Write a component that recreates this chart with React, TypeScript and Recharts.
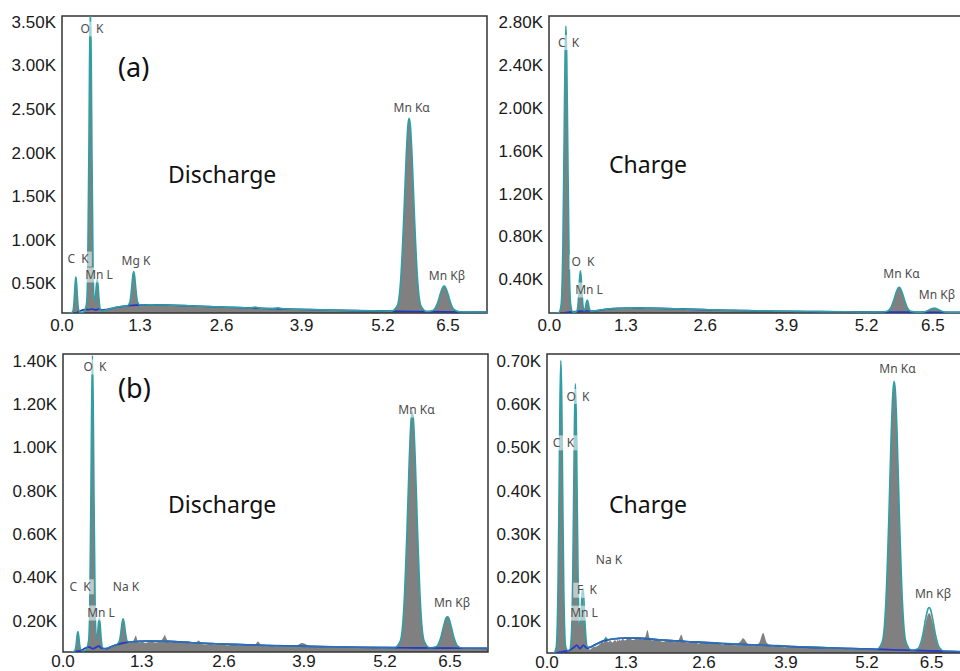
import React from 'react';
import { ComposedChart, Area, Line, Scatter, XAxis, YAxis, ReferenceArea } from 'recharts';

// ---------- shared energy grid (keV) ----------
const energyKeV = [
  0.00, 0.10, 0.16, 0.20, 0.23, 0.25, 0.265, 0.28, 0.295, 0.31,
  0.33, 0.36, 0.40, 0.43, 0.46, 0.48, 0.50, 0.51, 0.525, 0.54,
  0.55, 0.57, 0.59, 0.61, 0.625, 0.64, 0.655, 0.67, 0.685, 0.70,
  0.73, 0.77, 0.82, 0.88, 0.94, 0.98, 1.00, 1.02, 1.04, 1.06,
  1.08, 1.11, 1.15, 1.19, 1.22, 1.24, 1.255, 1.27, 1.29, 1.32,
  1.36, 1.42, 1.50, 1.58, 1.66, 1.71, 1.74, 1.77, 1.82, 1.90,
  2.00, 2.10, 2.20, 2.27, 2.31, 2.35, 2.42, 2.50, 2.60, 2.70,
  2.80, 2.90, 3.00, 3.10, 3.20, 3.27, 3.31, 3.35, 3.45, 3.55,
  3.63, 3.69, 3.75, 3.85, 3.95, 4.05, 4.20, 4.40, 4.60, 4.80,
  5.00, 5.20, 5.40, 5.60, 5.70, 5.76, 5.81, 5.85, 5.88, 5.90,
  5.92, 5.95, 5.99, 6.04, 6.10, 6.20, 6.30, 6.38, 6.43, 6.47,
  6.49, 6.51, 6.55, 6.60, 6.66, 6.75, 6.90, 7.10, 7.30, 7.50,
];

// ---------- (a) Discharge, top-left ----------
const countsA = [
  150, 150, 152, 158, 180, 296, 474, 575, 475, 298,
  184, 166, 168, 189, 267, 673, 2075, 3007, 3650, 3007,
  2075, 676, 297, 346, 476, 545, 465, 320, 220, 185,
  182, 190, 200, 211, 221, 226, 228, 230, 232, 234,
  236, 238, 242, 281, 441, 587, 633, 589, 444, 287,
  251, 251, 252, 252, 251, 251, 251, 250, 250, 248,
  246, 244, 241, 239, 238, 237, 235, 233, 230, 228,
  226, 224, 222, 219, 217, 222, 226, 220, 212, 210,
  212, 218, 210, 204, 202, 201, 198, 195, 192, 189,
  186, 184, 182, 180, 243, 566, 1256, 1951, 2315, 2392,
  2315, 1951, 1256, 564, 241, 176, 187, 275, 388, 458,
  468, 458, 387, 274, 196, 174, 172, 171, 170, 169,
];
const backgroundA = [
  { e: 0.30, c: 170 }, { e: 0.36, c: 185 }, { e: 0.40, c: 195 }, { e: 0.45, c: 200 },
  { e: 0.50, c: 196 }, { e: 0.53, c: 205 }, { e: 0.58, c: 200 }, { e: 0.62, c: 195 },
  { e: 0.66, c: 205 }, { e: 0.72, c: 192 }, { e: 0.80, c: 200 }, { e: 0.90, c: 214 },
  { e: 1.00, c: 228 }, { e: 1.10, c: 238 }, { e: 1.20, c: 245 }, { e: 1.30, c: 249 },
  { e: 1.50, c: 252 }, { e: 1.80, c: 250 }, { e: 2.20, c: 241 }, { e: 2.60, c: 230 },
  { e: 3.00, c: 222 }, { e: 3.50, c: 211 }, { e: 4.00, c: 202 }, { e: 4.50, c: 194 },
  { e: 5.00, c: 186 }, { e: 5.50, c: 181 }, { e: 6.00, c: 177 }, { e: 6.50, c: 174 },
  { e: 7.00, c: 171 }, { e: 7.50, c: 169 },
];
const peakLabelsA = [
  { e: 0.552, c: 3416, t: 'O  K' },
  { e: 5.943, c: 2516, t: 'Mn Kα' },
  { e: 0.316, c: 778, t: 'C  K' },
  { e: 0.670, c: 595, t: 'Mn L' },
  { e: 1.294, c: 755, t: 'Mg K' },
  { e: 6.538, c: 589, t: 'Mn Kβ' },
];
const yTicksA = [500, 1000, 1500, 2000, 2500, 3000, 3500];
const xTickKeVA = [0.046, 1.361, 2.739, 4.088, 5.459, 6.555];

// ---------- Charge, top-right ----------
const countsTR = [
  80, 80, 88, 165, 755, 1711, 2445, 2760, 2445, 1711,
  757, 167, 94, 94, 100, 142, 297, 400, 480, 400,
  297, 145, 109, 139, 183, 207, 184, 141, 113, 103,
  102, 106, 110, 116, 121, 123, 124, 125, 126, 127,
  127, 128, 129, 130, 130, 130, 131, 131, 131, 131,
  131, 132, 132, 132, 131, 131, 131, 130, 130, 129,
  127, 125, 124, 123, 122, 121, 120, 119, 117, 116,
  115, 113, 112, 111, 110, 109, 109, 108, 107, 106,
  105, 105, 104, 103, 102, 102, 101, 100, 99, 98,
  97, 96, 96, 95, 102, 135, 207, 279, 317, 325,
  317, 279, 207, 134, 101, 94, 94, 106, 120, 129,
  130, 129, 120, 106, 96, 92, 92, 92, 91, 91,
];
const backgroundTR = [
  { e: 0.25, c: 88 }, { e: 0.35, c: 95 }, { e: 0.45, c: 100 }, { e: 0.55, c: 104 },
  { e: 0.65, c: 105 }, { e: 0.75, c: 104 }, { e: 0.85, c: 112 }, { e: 1.00, c: 124 },
  { e: 1.20, c: 130 }, { e: 1.50, c: 132 }, { e: 1.80, c: 130 }, { e: 2.20, c: 124 },
  { e: 2.60, c: 117 }, { e: 3.00, c: 112 }, { e: 3.50, c: 106 }, { e: 4.00, c: 102 },
  { e: 4.50, c: 99 }, { e: 5.00, c: 97 }, { e: 5.50, c: 95 }, { e: 6.00, c: 94 },
  { e: 6.50, c: 93 }, { e: 7.00, c: 92 }, { e: 7.60, c: 91 },
];
const peakLabelsTR = [
  { e: 0.324, c: 2607, t: 'C  K' },
  { e: 0.568, c: 561, t: 'O  K' },
  { e: 0.670, c: 300, t: 'Mn L' },
  { e: 5.939, c: 449, t: 'Mn Kα' },
  { e: 6.538, c: 254, t: 'Mn Kβ' },
];
const yTicksTR = [400, 800, 1200, 1600, 2000, 2400, 2800];
const xTickKeVTR = [0.0, 1.29, 2.63, 4.0, 5.35, 6.47];

// ---------- (b) Discharge, bottom-left ----------
const fitB = [
  50, 50, 52, 56, 62, 87, 126, 149, 127, 89,
  65, 61, 62, 72, 106, 263, 798, 1152, 1424, 1152,
  798, 266, 119, 137, 185, 211, 180, 122, 85, 71,
  70, 73, 78, 84, 90, 108, 140, 185, 208, 187,
  143, 105, 100, 101, 102, 102, 103, 103, 103, 104,
  104, 105, 106, 106, 105, 105, 105, 105, 104, 103,
  101, 100, 98, 97, 97, 96, 95, 94, 93, 92,
  91, 90, 89, 88, 87, 87, 86, 86, 85, 84,
  84, 83, 83, 82, 82, 81, 81, 80, 79, 78,
  77, 76, 75, 75, 107, 265, 605, 947, 1126, 1164,
  1126, 947, 605, 265, 106, 74, 79, 122, 178, 213,
  218, 213, 178, 122, 84, 72, 72, 72, 71, 71,
];
const countsB = [
  50, 50, 52, 56, 62, 87, 126, 149, 127, 89,
  65, 61, 62, 72, 106, 263, 798, 1152, 1410, 1152,
  798, 266, 119, 137, 185, 211, 180, 122, 85, 71,
  66, 70, 74, 80, 86, 106, 138, 182, 205, 184,
  140, 102, 96, 99, 112, 124, 131, 118, 100, 98,
  101, 97, 103, 99, 104, 118, 134, 116, 99, 101,
  96, 99, 93, 100, 108, 97, 90, 92, 88, 91,
  86, 88, 84, 87, 83, 92, 103, 90, 82, 84,
  80, 83, 79, 81, 84, 96, 79, 78, 76, 77,
  74, 75, 72, 73, 107, 265, 605, 947, 1126, 1160,
  1126, 947, 605, 265, 106, 74, 79, 122, 178, 213,
  218, 213, 178, 122, 84, 70, 71, 69, 70, 69,
];
const backgroundB = [
  { e: 0.25, c: 58 }, { e: 0.33, c: 62 }, { e: 0.40, c: 72 }, { e: 0.47, c: 78 },
  { e: 0.53, c: 70 }, { e: 0.58, c: 76 }, { e: 0.63, c: 82 }, { e: 0.68, c: 72 },
  { e: 0.75, c: 70 }, { e: 0.85, c: 80 }, { e: 0.95, c: 90 }, { e: 1.05, c: 97 },
  { e: 1.15, c: 101 }, { e: 1.30, c: 104 }, { e: 1.50, c: 106 }, { e: 1.80, c: 104 },
  { e: 2.20, c: 98 }, { e: 2.60, c: 93 }, { e: 3.00, c: 89 }, { e: 3.50, c: 85 },
  { e: 4.00, c: 82 }, { e: 4.50, c: 79 }, { e: 5.00, c: 77 }, { e: 5.50, c: 75 },
  { e: 6.00, c: 74 }, { e: 6.50, c: 73 }, { e: 7.00, c: 72 }, { e: 7.50, c: 71 },
];
const peakLabelsB = [
  { e: 0.568, c: 1371, t: 'O  K' },
  { e: 5.971, c: 1172, t: 'Mn Kα' },
  { e: 0.316, c: 356, t: 'C  K' },
  { e: 1.089, c: 355, t: 'Na K' },
  { e: 0.669, c: 235, t: 'Mn L' },
  { e: 6.568, c: 281, t: 'Mn Kβ' },
];
const yTicksB = [200, 400, 600, 800, 1000, 1200, 1400];
const xTickKeVB = [0.03, 1.353, 2.736, 4.08, 5.442, 6.534];

// ---------- Charge, bottom-right ----------
const fitD = [
  20, 20, 24, 37, 163, 405, 610, 700, 610, 406,
  165, 40, 30, 32, 73, 200, 444, 564, 646, 564,
  445, 204, 89, 90, 129, 166, 173, 143, 100, 64,
  39, 38, 41, 45, 49, 51, 52, 56, 59, 57,
  55, 56, 57, 58, 58, 58, 59, 59, 59, 59,
  60, 60, 60, 60, 59, 59, 58, 58, 57, 56,
  55, 54, 53, 52, 52, 52, 51, 51, 50, 49,
  49, 48, 47, 47, 46, 45, 45, 45, 44, 44,
  43, 43, 43, 42, 42, 41, 40, 39, 38, 37,
  36, 35, 34, 33, 51, 142, 335, 530, 630, 652,
  630, 529, 334, 141, 50, 31, 35, 65, 103, 127,
  130, 127, 103, 65, 38, 29, 29, 28, 28, 27,
];
const countsD = [
  20, 20, 24, 37, 163, 405, 610, 698, 610, 406,
  165, 40, 30, 32, 70, 190, 420, 540, 605, 545,
  430, 195, 88, 88, 120, 150, 152, 128, 92, 60,
  37, 33, 38, 40, 46, 52, 48, 58, 63, 54,
  50, 53, 49, 55, 51, 56, 52, 57, 53, 58,
  54, 59, 55, 60, 56, 64, 78, 62, 54, 57,
  51, 55, 50, 56, 67, 54, 48, 52, 47, 51,
  46, 49, 44, 48, 43, 47, 52, 59, 44, 42,
  50, 71, 49, 40, 43, 38, 41, 37, 38, 35,
  36, 33, 34, 32, 50, 140, 332, 525, 625, 646,
  624, 524, 330, 138, 49, 30, 34, 60, 94, 114,
  117, 114, 94, 60, 36, 28, 28, 27, 27, 26,
];
const backgroundD = [
  { e: 0.18, c: 25 }, { e: 0.30, c: 28 }, { e: 0.42, c: 31 }, { e: 0.50, c: 38 },
  { e: 0.55, c: 43 }, { e: 0.60, c: 35 }, { e: 0.66, c: 43 }, { e: 0.72, c: 36 },
  { e: 0.80, c: 40 }, { e: 0.90, c: 47 }, { e: 1.00, c: 53 }, { e: 1.10, c: 56 },
  { e: 1.30, c: 59 }, { e: 1.50, c: 60 }, { e: 1.80, c: 57 }, { e: 2.20, c: 53 },
  { e: 2.60, c: 50 }, { e: 3.00, c: 47 }, { e: 3.50, c: 44 }, { e: 4.00, c: 41 },
  { e: 4.50, c: 38 }, { e: 5.00, c: 36 }, { e: 5.50, c: 34 }, { e: 6.00, c: 32 },
  { e: 6.50, c: 30 }, { e: 7.00, c: 28 }, { e: 7.60, c: 27 },
];
const peakLabelsD = [
  { e: 0.324, c: 510, t: 'C  K' },
  { e: 0.569, c: 617, t: 'O  K' },
  { e: 5.957, c: 680, t: 'Mn Kα' },
  { e: 1.092, c: 241, t: 'Na K' },
  { e: 0.721, c: 170, t: 'F  K' },
  { e: 0.670, c: 117, t: 'Mn L' },
  { e: 6.555, c: 161, t: 'Mn Kβ' },
];
const yTicksD = [100, 200, 300, 400, 500, 600, 700];
const xTickKeVD = [0.046, 1.378, 2.693, 4.076, 5.442, 6.533];

// ---------- shared labels ----------
const xTickLabels = ['0.0', '1.3', '2.6', '3.9', '5.2', '6.5'];
const panelTexts = [
  { x: 118, y: 77, size: 27, t: '(a)' },
  { x: 168, y: 182.7, size: 23, t: 'Discharge' },
  { x: 609, y: 172.7, size: 23, t: 'Charge' },
  { x: 118, y: 398, size: 27, t: '(b)' },
  { x: 168, y: 512.7, size: 23, t: 'Discharge' },
  { x: 609, y: 512.7, size: 23, t: 'Charge' },
];

const tickFont = "'Liberation Sans', Arial, sans-serif";
const labelFont = "'Noto Sans', 'Open Sans', sans-serif";
const fmtK = (v: number) => (v / 1000).toFixed(2) + 'K';

function PeakLabel(props: any) {
  const { cx, cy, payload } = props;
  if (cx == null || cy == null || !payload) return null;
  const t: string = payload.t;
  const w = t.length * 6.4 + 2;
  return (
    <g>
      <rect x={cx - w / 2} y={cy - 7.5} width={w} height={15} fill="#ffffff" fillOpacity={0.55} />
      <text
        x={cx}
        y={cy + 4.3}
        textAnchor="middle"
        fontSize={12}
        fill="#4d4d4d"
        fontFamily={labelFont}
        xmlSpace="preserve"
        style={{ whiteSpace: 'pre' }}
      >
        {t}
      </text>
    </g>
  );
}

type PanelProps = {
  left: number;
  top: number;
  width: number;
  height: number;
  mTop: number;
  mRight: number;
  yAxisWidth: number;
  xAxisHeight: number;
  xTickMargin: number;
  xDomain: [number, number];
  yDomain: [number, number];
  xTicks: number[];
  yTicks: number[];
  counts: number[];
  fit: number[];
  bg: { e: number; c: number }[];
  labels: { e: number; c: number; t: string }[];
  bgOverlay: boolean;
};

function Spectrum(p: PanelProps) {
  const data = energyKeV.map((e, i) => ({ e, counts: p.counts[i], fit: p.fit[i] }));
  return (
    <div style={{ position: 'absolute', left: p.left, top: p.top, width: p.width, height: p.height }}>
      <ComposedChart
        width={p.width}
        height={p.height}
        data={data}
        margin={{ top: p.mTop, right: p.mRight, bottom: 0, left: 0 }}
      >
        <XAxis
          dataKey="e"
          type="number"
          domain={p.xDomain}
          allowDataOverflow
          ticks={p.xTicks}
          interval={0}
          tickFormatter={(v: number, i: number) => xTickLabels[i]}
          tickLine={false}
          axisLine={false}
          tickSize={0}
          tickMargin={p.xTickMargin}
          height={p.xAxisHeight}
          tick={{ fill: '#1a1a1a', fontSize: 17, fontFamily: tickFont }}
        />
        <YAxis
          type="number"
          domain={p.yDomain}
          allowDataOverflow
          ticks={p.yTicks}
          interval={0}
          tickFormatter={fmtK}
          tickLine={false}
          axisLine={false}
          tickSize={0}
          tickMargin={6}
          width={p.yAxisWidth}
          tick={{ fill: '#1a1a1a', fontSize: 17, fontFamily: tickFont }}
        />
        <Area
          dataKey="counts"
          type="monotone"
          stroke="none"
          fill="#808080"
          fillOpacity={1}
          dot={false}
          activeDot={false}
          isAnimationActive={false}
        />
        <Line
          data={p.bg}
          dataKey="c"
          type="monotone"
          stroke="#2236c4"
          strokeWidth={1.6}
          dot={false}
          activeDot={false}
          isAnimationActive={false}
        />
        <Line
          dataKey="fit"
          type="monotone"
          stroke="#2f9fa3"
          strokeWidth={1.6}
          dot={false}
          activeDot={false}
          isAnimationActive={false}
        />
        {p.bgOverlay && (
          <Line
            data={p.bg}
            dataKey="c"
            type="monotone"
            stroke="#2a40c8"
            strokeOpacity={0.5}
            strokeWidth={1.6}
            dot={false}
            activeDot={false}
            isAnimationActive={false}
          />
        )}
        <ReferenceArea
          x1={p.xDomain[0]}
          x2={p.xDomain[1]}
          y1={p.yDomain[0]}
          y2={p.yDomain[1]}
          fill="none"
          fillOpacity={0}
          stroke="#333333"
          strokeWidth={1.5}
          ifOverflow="visible"
        />
        <Scatter data={p.labels} dataKey="c" shape={PeakLabel} isAnimationActive={false} />
      </ComposedChart>
    </div>
  );
}

export default function App() {
  return (
    <div
      style={{
        position: 'fixed',
        left: 0,
        top: 0,
        width: 960,
        height: 671,
        overflow: 'hidden',
        background: '#ffffff',
      }}
    >
      <Spectrum
        left={0}
        top={0}
        width={490}
        height={340}
        mTop={16}
        mRight={3}
        yAxisWidth={62}
        xAxisHeight={27}
        xTickMargin={6}
        xDomain={[0.046, 7.213]}
        yDomain={[159, 3565]}
        xTicks={xTickKeVA}
        yTicks={yTicksA}
        counts={countsA}
        fit={countsA}
        bg={backgroundA}
        labels={peakLabelsA}
        bgOverlay={false}
      />
      <Spectrum
        left={490}
        top={0}
        width={520}
        height={340}
        mTop={16}
        mRight={11}
        yAxisWidth={59}
        xAxisHeight={27}
        xTickMargin={6}
        xDomain={[-0.005, 7.584]}
        yDomain={[86, 2854]}
        xTicks={xTickKeVTR}
        yTicks={yTicksTR}
        counts={countsTR}
        fit={countsTR}
        bg={backgroundTR}
        labels={peakLabelsTR}
        bgOverlay={false}
      />
      <Spectrum
        left={0}
        top={340}
        width={490}
        height={331}
        mTop={14}
        mRight={2}
        yAxisWidth={63}
        xAxisHeight={19}
        xTickMargin={3}
        xDomain={[0.03, 7.173]}
        yDomain={[55, 1431]}
        xTicks={xTickKeVB}
        yTicks={yTicksB}
        counts={countsB}
        fit={fitB}
        bg={backgroundB}
        labels={peakLabelsB}
        bgOverlay={true}
      />
      <Spectrum
        left={490}
        top={340}
        width={520}
        height={331}
        mTop={14}
        mRight={11}
        yAxisWidth={57}
        xAxisHeight={18}
        xTickMargin={3}
        xDomain={[0.046, 7.668]}
        yDomain={[25, 715]}
        xTicks={xTickKeVD}
        yTicks={yTicksD}
        counts={countsD}
        fit={fitD}
        bg={backgroundD}
        labels={peakLabelsD}
        bgOverlay={true}
      />
      <svg
        width={960}
        height={671}
        style={{ position: 'absolute', left: 0, top: 0, pointerEvents: 'none' }}
      >
        {panelTexts.map((p, i) => (
          <text key={i} x={p.x} y={p.y} fontSize={p.size} fill="#111111" fontFamily={labelFont}>
            {p.t}
          </text>
        ))}
      </svg>
    </div>
  );
}
